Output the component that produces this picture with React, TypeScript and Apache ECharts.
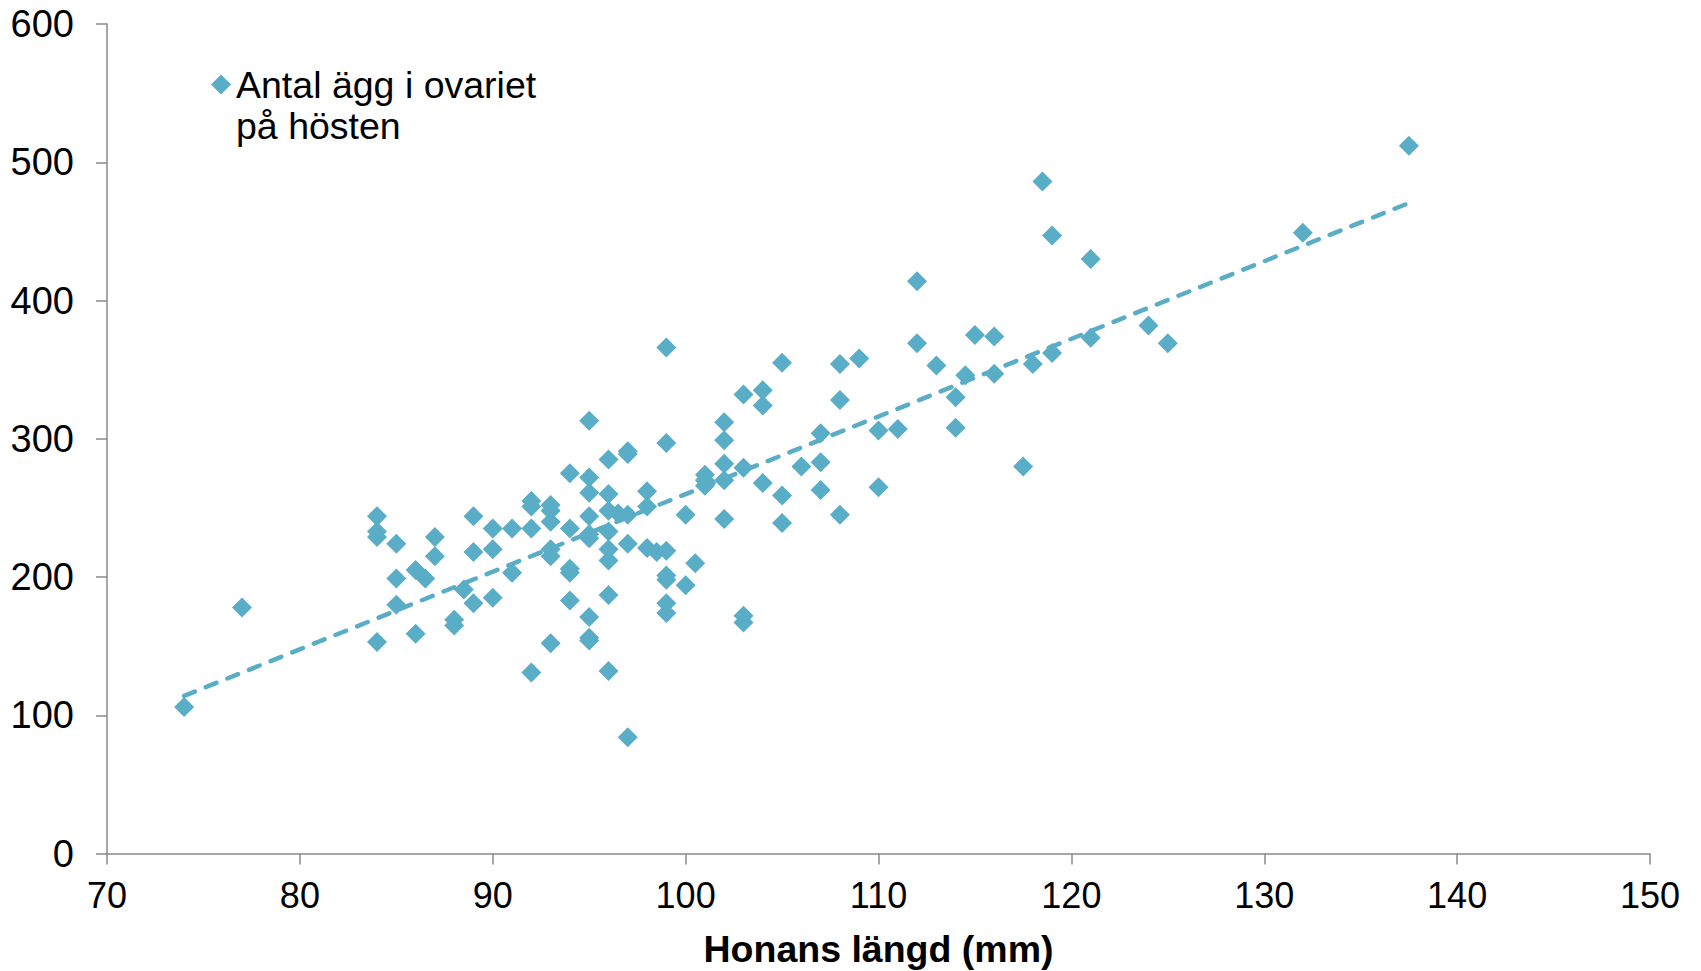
import React, { useEffect, useRef } from "react";
import * as echarts from "echarts";

const seriesName = "Antal ägg i ovariet på hösten";
const legendLines = ["", "Antal ägg i ovariet", "på hösten"];
const xAxisName = "Honans längd (mm)";

const lengths = [
  74, 77, 84, 84, 84, 84, 85, 85, 85, 86, 86, 86.5, 87, 87, 88, 88, 88.5, 89, 89, 89,
  90, 90, 90, 91, 91, 92, 92, 92, 92, 93, 93, 93, 93, 93, 93, 94, 94, 94, 94, 94,
  95, 95, 95, 95, 95, 95, 95, 95, 95, 96, 96, 96, 96.5, 96, 96, 96, 96, 96,
  97, 97, 97, 97, 97, 98, 98, 98, 98.5, 99, 99, 99, 99, 99, 99, 99,
  100, 100, 100.5, 101, 101, 101, 102, 102, 102, 102, 102, 103, 103, 103, 103,
  104, 104, 104, 105, 105, 105, 106, 107, 107, 107, 108, 108, 108, 109, 110, 110, 111,
  112, 112, 113, 114, 114, 114.5, 115, 116, 116, 117.5, 118, 118.5, 119, 119,
  121, 121, 124, 125, 132, 137.5,
];
const eggs = [
  106, 178, 244, 233, 229, 153, 224, 199, 180, 159, 205, 199, 229, 215, 169, 165, 191, 244, 218, 181,
  235, 220, 185, 235, 203, 255, 251, 235, 131, 252, 248, 240, 220, 215, 152, 275, 235, 206, 203, 183,
  313, 272, 261, 244, 231, 228, 171, 156, 154, 285, 260, 248, 246, 233, 220, 212, 187, 132,
  291, 289, 245, 224, 84, 262, 251, 221, 218, 366, 297, 219, 201, 198, 181, 174,
  245, 194, 210, 274, 270, 266, 312, 299, 282, 270, 242, 332, 279, 172, 167,
  335, 324, 268, 355, 259, 239, 280, 304, 283, 263, 354, 328, 245, 358, 306, 265, 307,
  414, 369, 353, 330, 308, 346, 375, 374, 347, 280, 354, 486, 447, 362,
  430, 373, 382, 369, 449, 512,
];
const trendX = [74, 137.5];
const trendY = [114, 470.5];

const xTicks = { min: 70, max: 150, interval: 10 };
const yTicks = { min: 0, max: 600, interval: 100 };

const COLOR = "#5AADC6";
const AXIS = "#8A8A8A";
const FONT = "'Liberation Sans', Arial, sans-serif";

export default function App() {
  const ref = useRef<HTMLDivElement>(null);
  useEffect(() => {
    if (!ref.current) return;
    const chart = echarts.init(ref.current, undefined, { renderer: "svg" });
    const points = lengths.map((x, i) => [x, eggs[i]]);
    const trend = trendX.map((x, i) => [x, trendY[i]]);
    chart.setOption({
      animation: false,
      backgroundColor: "#ffffff",
      textStyle: { fontFamily: FONT },
      grid: {
        left: 107,
        right: 51,
        top: 24,
        bottom: 117.5,
        containLabel: false,
        outerBoundsMode: "none",
      },
      legend: {
        data: [seriesName],
        left: 211,
        top: 23,
        padding: 0,
        itemWidth: 20,
        itemHeight: 20,
        icon: "diamond",
        selectedMode: false,
        formatter: () => legendLines.join("\n"),
        textStyle: {
          fontFamily: FONT,
          fontSize: 37.5,
          lineHeight: 41,
          color: "#000",
        },
      },
      xAxis: {
        type: "value",
        min: xTicks.min,
        max: xTicks.max,
        interval: xTicks.interval,
        name: xAxisName,
        nameLocation: "middle",
        nameGap: 76,
        nameTextStyle: { fontFamily: FONT, fontSize: 37.5, fontWeight: "bold", color: "#000" },
        axisLine: { show: true, onZero: false, lineStyle: { color: AXIS, width: 1.5 } },
        axisTick: { show: true, length: 11, lineStyle: { color: AXIS, width: 1.5 } },
        axisLabel: { fontFamily: FONT, fontSize: 36, color: "#000", margin: 24 },
        splitLine: { show: false },
      },
      yAxis: {
        type: "value",
        min: yTicks.min,
        max: yTicks.max,
        interval: yTicks.interval,
        axisLine: { show: true, lineStyle: { color: AXIS, width: 1.5 } },
        axisTick: { show: true, length: 11, lineStyle: { color: AXIS, width: 1.5 } },
        axisLabel: { fontFamily: FONT, fontSize: 38, color: "#000", margin: 33 },
        splitLine: { show: false },
      },
      series: [
        {
          name: seriesName,
          type: "scatter",
          symbol: "diamond",
          symbolSize: 20,
          itemStyle: { color: COLOR, opacity: 1 },
          data: points,
          z: 2,
        },
        {
          name: "trend",
          type: "line",
          data: trend,
          showSymbol: false,
          symbol: "none",
          silent: true,
          lineStyle: {
            color: COLOR,
            width: 4.5,
            type: [11.5, 11.8],
            cap: "round",
          },
          z: 3,
        },
      ],
    });
    return () => chart.dispose();
  }, []);
  return (
    <div
      ref={ref}
      style={{ position: "fixed", left: 0, top: 0, width: 1701, height: 971 }}
    />
  );
}
